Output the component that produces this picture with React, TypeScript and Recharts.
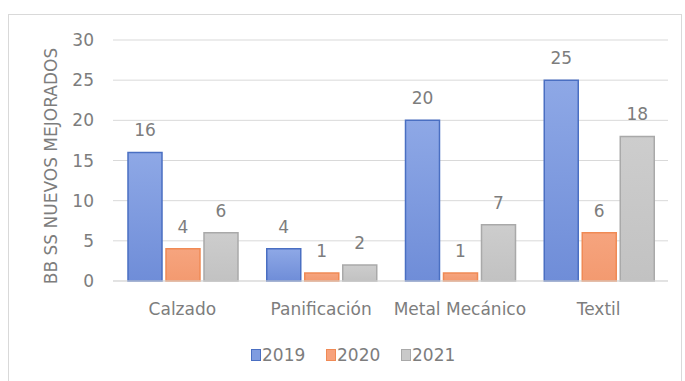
import React from 'react';
import { BarChart, Bar, XAxis, YAxis, CartesianGrid, Legend, LabelList } from 'recharts';

const categories = ['Calzado', 'Panificación', 'Metal Mecánico', 'Textil'];
const values2019 = [16, 4, 20, 25];
const values2020 = [4, 1, 1, 6];
const values2021 = [6, 2, 7, 18];
const yTicks = [0, 5, 10, 15, 20, 25, 30];
const seriesNames = ['2019', '2020', '2021'];
const yTitle = 'BB SS NUEVOS MEJORADOS';

const data = categories.map((c, i) => ({
  name: c,
  '2019': values2019[i],
  '2020': values2020[i],
  '2021': values2021[i],
}));

const FONT = '"DejaVu Sans", sans-serif';
const TXT = '#7d7d7d';
const FS = 17;

const seriesStyle: Record<string, { grad: string; stroke: string; legend: string }> = {
  '2019': { grad: 'g2019', stroke: '#4a6fc2', legend: '#7f9ce0' },
  '2020': { grad: 'g2020', stroke: '#f08a55', legend: '#f7a27c' },
  '2021': { grad: 'g2021', stroke: '#a9a9a9', legend: '#c9c9c9' },
};

const LegendContent = () => (
  <div style={{ display: 'flex', justifyContent: 'flex-start', paddingLeft: 251, height: 22, fontFamily: FONT, fontSize: FS, color: TXT }}>
    {seriesNames.map((n) => (
      <div key={n} style={{ display: 'flex', alignItems: 'center', width: 75 }}>
        <span style={{ display: 'inline-block', width: 8, height: 10, background: seriesStyle[n].legend, border: `1px solid ${seriesStyle[n].stroke}`, marginRight: 1 }} />
        <span>{n}</span>
      </div>
    ))}
  </div>
);

const YTitle = () => {
  const cy = 166;
  const cx = 51;
  return (
    <text x={cx} y={cy} transform={`rotate(-90, ${cx}, ${cy})`} textAnchor="middle" dominantBaseline="central" fill={TXT} fontSize={FS} fontFamily={FONT}>
      {yTitle}
    </text>
  );
};

export default function App() {
  return (
    <div style={{ position: 'absolute', left: 0, top: 0, width: 685, height: 381, background: '#fff' }}>
      <div style={{ position: 'absolute', left: 8, top: 14, width: 674, height: 380, border: '1px solid #d9d9d9', boxSizing: 'border-box' }} />
      <div style={{ position: 'absolute', left: 0, top: 0 }}>
        <BarChart width={685} height={381} data={data} margin={{ top: 40, right: 17, left: 0, bottom: 38 }} barGap={4} barCategoryGap={15}>
          <defs>
            <linearGradient id="g2019" x1="0" y1="0" x2="0" y2="1">
              <stop offset="0%" stopColor="#8ea8e6" />
              <stop offset="100%" stopColor="#6f8dd8" />
            </linearGradient>
            <linearGradient id="g2020" x1="0" y1="0" x2="0" y2="1">
              <stop offset="0%" stopColor="#f6a47e" />
              <stop offset="100%" stopColor="#f39a70" />
            </linearGradient>
            <linearGradient id="g2021" x1="0" y1="0" x2="0" y2="1">
              <stop offset="0%" stopColor="#cdcdcd" />
              <stop offset="100%" stopColor="#c2c2c2" />
            </linearGradient>
          </defs>
          <CartesianGrid vertical={false} stroke="#d9d9d9" />
          <XAxis dataKey="name" height={40} tickSize={0} tickMargin={22} axisLine={{ stroke: '#d9d9d9' }} tick={{ fill: TXT, fontSize: FS, fontFamily: FONT }} interval={0} />
          <YAxis width={113} domain={[0, 30]} ticks={yTicks} tickSize={0} tickMargin={19} axisLine={false} tick={{ fill: TXT, fontSize: FS, fontFamily: FONT }} label={{ content: <YTitle /> }} />
          <Legend content={<LegendContent />} height={22} wrapperStyle={{ top: 344, left: 0, width: 685 }} />
          {seriesNames.map((n) => (
            <Bar key={n} dataKey={n} fill={`url(#${seriesStyle[n].grad})`} stroke={seriesStyle[n].stroke} strokeWidth={1.5} isAnimationActive={false}>
              <LabelList dataKey={n} position="top" offset={16} fill={TXT} fontSize={FS} fontFamily={FONT} />
            </Bar>
          ))}
        </BarChart>
      </div>
    </div>
  );
}
